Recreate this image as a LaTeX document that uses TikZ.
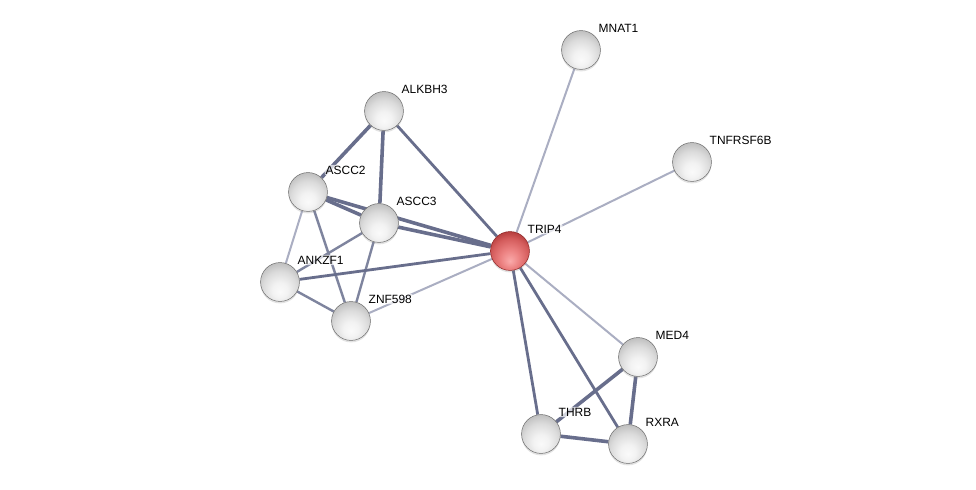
\documentclass[tikz,border=0pt]{standalone}
\usepackage{fontspec}
\setmainfont{Liberation Sans}
\usetikzlibrary{backgrounds,shadows,calc}
\pgfdeclareradialshading{greyball}{\pgfpoint{0bp}{-13bp}}{%
  color(0bp)=(white!98!black); color(10bp)=(white!95!black); color(22bp)=(white!86!black);
  color(32bp)=(white!74!black); color(38bp)=(white!62!black); color(60bp)=(white!55!black)}
\definecolor{redA}{RGB}{250,170,170}
\definecolor{redB}{RGB}{236,130,130}
\definecolor{redC}{RGB}{212,92,92}
\definecolor{redD}{RGB}{170,50,50}
\definecolor{redE}{RGB}{140,35,35}
\pgfdeclareradialshading{redball}{\pgfpoint{0bp}{-13bp}}{%
  color(0bp)=(redA); color(12bp)=(redB); color(24bp)=(redC);
  color(34bp)=(redD); color(40bp)=(redE); color(60bp)=(redE)}
\definecolor{edgeDark}{RGB}{104,110,140}
\definecolor{edgeMid}{RGB}{126,132,158}
\definecolor{edgeLight}{RGB}{170,174,194}
\tikzset{
  protein/.style={circle, minimum size=39, inner sep=0pt, shading=greyball,
    draw=white!42!black, line width=0.5,
    drop shadow={opacity=0.22, shadow xshift=0pt, shadow yshift=-2pt},
    path picture={\fill[white,opacity=0.8] ($(path picture bounding box.north)+(0,-6)$) ellipse (8.5 and 3.8);}},
  query/.style={protein, shading=redball, draw=redE},
  lbl/.style={anchor=west, inner sep=1pt, fill=white, fill opacity=0.7, text opacity=1,
    rounded corners=2pt, font=\fontsize{12}{14}\selectfont, text=black},
  thick4/.style={draw=edgeDark, line width=3.6},
  mid3/.style={draw=edgeDark, line width=2.8},
  mid2/.style={draw=edgeMid, line width=2.4},
  thin2/.style={draw=edgeLight, line width=2},
}
\begin{document}
\begin{tikzpicture}[x=1bp,y=-1bp]
\useasboundingbox (0,0) rectangle (976,490);
\node[protein] (MNAT1) at (581,50) {};
\node[protein] (TNFRSF6B) at (692,162) {};
\node[protein] (ALKBH3) at (384,111) {};
\node[protein] (ASCC2) at (308,192) {};
\node[protein] (ASCC3) at (379,223) {};
\node[query] (TRIP4) at (510,251) {};
\node[protein] (ANKZF1) at (280,282) {};
\node[protein] (ZNF598) at (351,321) {};
\node[protein] (MED4) at (638,357) {};
\node[protein] (THRB) at (541,434) {};
\node[protein] (RXRA) at (628,444) {};
\foreach \n in {MNAT1,TNFRSF6B,ALKBH3,ASCC2,ASCC3,TRIP4,ANKZF1,ZNF598,MED4,THRB,RXRA}
  \node[lbl] (\n-l) at ($(\n)+(16.5,-22)$) {\n};
\begin{scope}[on background layer]
\fill[white] (0,0) rectangle (976,490);
\path[thin2] (MNAT1) -- (TRIP4);
\path[thin2] (TNFRSF6B) -- (TRIP4);
\path[mid3] (ALKBH3) -- (TRIP4);
\path[thick4] (ALKBH3) -- (ASCC2);
\path[thick4] (ALKBH3) -- (ASCC3);
\path[thick4] (ASCC2) -- (ASCC3);
\path[thick4] (ASCC2) -- (TRIP4);
\path[thick4] (ASCC3) -- (TRIP4);
\path[thin2] (ASCC2) -- (ANKZF1);
\path[mid2] (ASCC2) -- (ZNF598);
\path[mid2] (ASCC3) -- (ANKZF1);
\path[mid2] (ASCC3) -- (ZNF598);
\path[mid2] (ANKZF1) -- (ZNF598);
\path[mid3] (ANKZF1) -- (TRIP4);
\path[thin2] (ZNF598) -- (TRIP4);
\path[thin2] (TRIP4) -- (MED4);
\path[mid3] (TRIP4) -- (THRB);
\path[mid3] (TRIP4) -- (RXRA);
\path[thick4] (MED4) -- (THRB);
\path[thick4] (MED4) -- (RXRA);
\path[thick4] (THRB) -- (RXRA);
\end{scope}
\end{tikzpicture}
\end{document}
